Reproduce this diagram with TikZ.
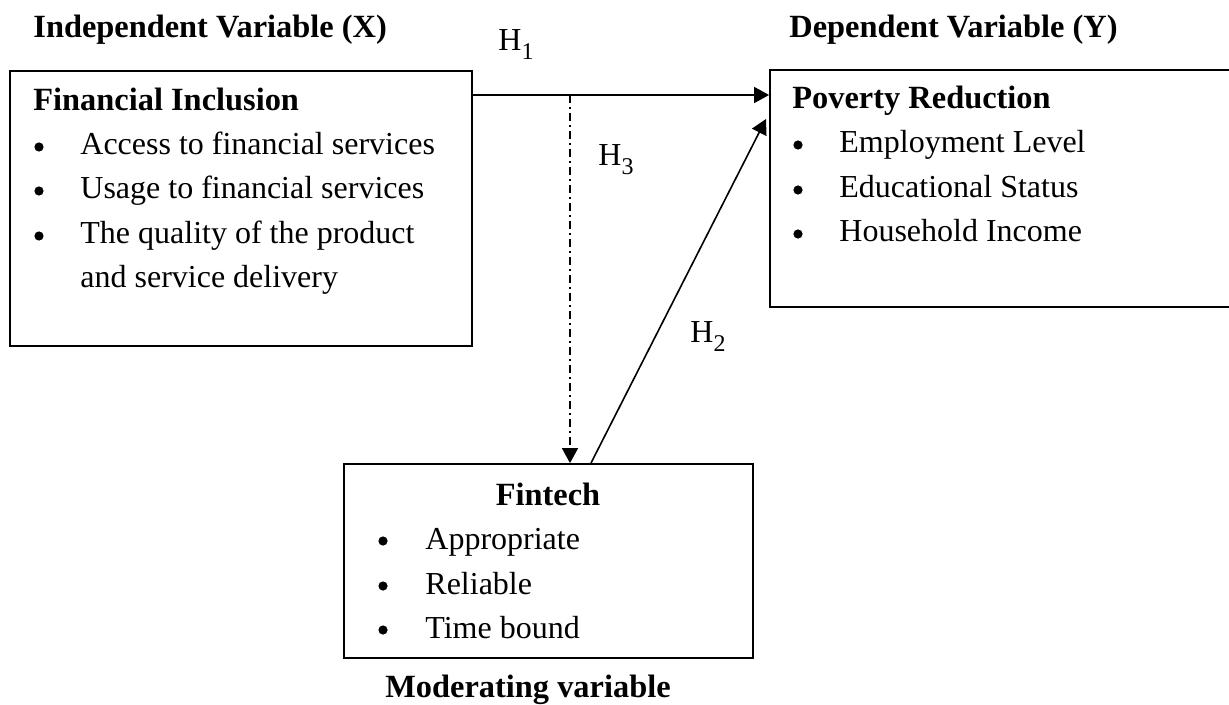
\documentclass[tikz,border=0pt]{standalone}
\usepackage{fontspec}
\setmainfont{Liberation Serif}
\usetikzlibrary{arrows.meta,fit}
\newcommand{\hsub}[1]{H\raisebox{-0.28em}{\fontsize{12}{12}\selectfont #1}}
\begin{document}
\begin{tikzpicture}[x=0.5pt,y=-0.5pt,
  txt/.style={font=\fontsize{16}{19}\selectfont, inner sep=0pt},
  ttl/.style={txt, font=\fontsize{16.2}{19}\selectfont\bfseries},
  bul/.style={circle, fill=black, inner sep=0pt, minimum size=4.6pt},
  itm/.style={txt, anchor=base west},
  box/.style={draw, line width=0.9pt, inner sep=0pt},
  arr/.style={line width=0.8pt, -{Triangle[length=7.5pt,width=8pt]}},
  dd/.style={dash pattern=on 4pt off 2pt on 1pt off 2pt}]
\useasboundingbox (0,0) rectangle (1229,705);

% boxes
\node[box, fit={(10,71) (472,346)}] (fi) {};
\node[box, fit={(770,70) (1240,307)}] (pr) {};
\node[box, fit={(344,464) (753,658)}] (ft) {};

% headings
\node[ttl, anchor=base west] (indep) at (33,38) {Independent Variable (X)};
\node[ttl, anchor=base west] (dep) at (789,38) {Dependent Variable (Y)};
\node[ttl, anchor=base] (mod) at (528,697) {Moderating variable};

% Financial inclusion
\node[ttl, anchor=base west] (fiT) at (33,111) {Financial Inclusion};
\node[bul] (fb1) at (39,147) {};
\node[itm] (fi1) at (80,155) {Access to financial services};
\node[bul] (fb2) at (39,191) {};
\node[itm] (fi2) at (80,199) {Usage to financial services};
\node[bul] (fb3) at (39,236) {};
\node[itm] (fi3) at (80,244) {The quality of the product};
\node[itm] (fi4) at (80,287) {and service delivery};

% Poverty reduction
\node[ttl, anchor=base west] (prT) at (792,109) {Poverty Reduction};
\node[bul] (pb1) at (798,145) {};
\node[itm] (pr1) at (839,153) {Employment Level};
\node[bul] (pb2) at (798,190) {};
\node[itm] (pr2) at (839,198) {Educational Status};
\node[bul] (pb3) at (798,234) {};
\node[itm] (pr3) at (839,242) {Household Income};

% Fintech
\node[ttl, anchor=base] (ftT) at (548,505) {Fintech};
\node[bul] (tb1) at (383,541) {};
\node[itm] (ft1) at (425,549) {Appropriate};
\node[bul] (tb2) at (383,586) {};
\node[itm] (ft2) at (425,594) {Reliable};
\node[bul] (tb3) at (383,630) {};
\node[itm] (ft3) at (425,638) {Time bound};

% connectors
\coordinate (y95) at (0,95);
\coordinate (d) at (570,95);
\coordinate (h2s) at (591,463);
\coordinate (h2e) at (766,119);
\draw[arr] (fi.east |- y95) -- (pr.west |- y95);
\draw[arr, dd] (d) -- (d |- ft.north);
\draw[arr] (h2s) -- (h2e);

% labels
\node[txt, anchor=base west] (H1) at (498,51) {\hsub{1}};
\node[txt, anchor=base west] (H3) at (598,166) {\hsub{3}};
\node[txt, anchor=base west] (H2) at (690,343) {\hsub{2}};
\end{tikzpicture}
\end{document}
